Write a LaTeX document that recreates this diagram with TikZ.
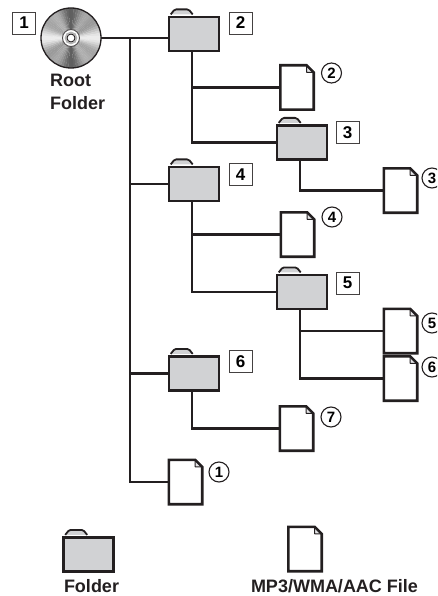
\documentclass[tikz,border=0pt]{standalone}
\usepackage{fontspec}
\setmainfont{Liberation Sans}
\definecolor{ink}{HTML}{231F20}
\definecolor{fgray}{HTML}{D1D2D4}
\definecolor{foldc}{HTML}{E4E4E6}
\begin{document}
\begin{tikzpicture}[x=1pt,y=-1pt,
  conn/.style={draw=ink, line width=2.4pt},
  folder/.style={rectangle, draw=ink, fill=fgray, line width=2.6pt, minimum width=50pt, minimum height=34pt, inner sep=0pt},
  tab/.style={draw=ink, fill=fgray, line width=1.8pt, line join=round, rounded corners=1.5pt},
  file/.style={rectangle, minimum width=33pt, minimum height=44pt, inner sep=0pt},
  fileout/.style={draw=ink, line width=2.6pt, line join=miter},
  foldst/.style={draw=ink, fill=foldc, line width=1pt, line join=round},
  sq/.style={rectangle, draw=ink!85, line width=0.9pt, fill=white, minimum width=23pt, minimum height=22pt, inner sep=0pt, font=\fontsize{17}{17}\selectfont\bfseries},
  circ/.style={circle, draw=ink, line width=1.1pt, minimum size=20pt, inner sep=0pt, font=\fontsize{15}{15}\selectfont\bfseries},
  lbl/.style={inner sep=0pt, text=ink, font=\fontsize{18}{18}\selectfont\bfseries}
]
\useasboundingbox (0,0) rectangle (437,596);
\clip (0,0) rectangle (437,596);

% ---- CD (root) ----
\node[circle, minimum size=60pt, inner sep=0pt] (cd) at (71,38) {};
\begin{scope}
  \clip (cd.center) circle[radius=30];
  \foreach \a in {0,5,...,355} {
    \pgfmathsetmacro{\v}{65+18*cos(2*\a)+10*cos(6*\a+20)}
    \fill[white!\v!black] (cd.center) -- +(\a:32) -- +(\a+5.5:32) -- cycle;
  }
\end{scope}
\draw[ink, line width=1.3pt] (cd.center) circle[radius=30];
\fill[white, draw=ink!80, line width=0.9pt] (cd.center) circle[radius=8.5];
\draw[gray!60, line width=1.5pt] (cd.center) circle[radius=5.6];
\fill[white, draw=ink, line width=0.9pt] (cd.center) circle[radius=4];

\node[sq] (b1) at (24,23) {1};
\node[lbl, anchor=base west] (root1) at (50,87) {Root};
\node[lbl, anchor=base west] (root2) at (50,110) {Folder};

% ---- folders ----
\node[folder] (f2) at (194,34) {};
\node[folder] (f3) at (302,142.5) {};
\node[folder] (f4) at (194,184) {};
\node[folder] (f5) at (302,292) {};
\node[folder] (f6) at (194,373.5) {};
\node[folder] (fl) at (88.5,554.5) {};

% ---- files ----
\node[file] (file2) at (297,87.5) {};
\node[file] (file3) at (400.5,190.5) {};
\node[file] (file4) at (297.5,234.5) {};
\node[file] (file5) at (400.5,331) {};
\node[file] (file6) at (400.5,378.5) {};
\node[file] (file7) at (296.5,428.5) {};
\node[file] (file1) at (185.5,482) {};
\node[file] (filel) at (305,549) {};

% ---- connectors ----
\coordinate (tk) at (130,38);
\draw[conn] (cd) -- (cd -| f2.west);
\draw[conn] (tk) |- (file1);
\draw[conn] (tk |- f4) -- (f4);
\draw[conn] (tk |- f6) -- (f6);
\draw[conn] ([xshift=-2pt]f2.south) |- (f3);
\draw[conn] ([xshift=-2pt]f2.south |- file2) -- (file2);
\draw[conn] ([xshift=-2pt]f3.south) |- (file3);
\draw[conn] ([xshift=-2pt]f4.south) |- (f5);
\draw[conn] ([xshift=-2pt]f4.south |- file4) -- (file4);
\draw[conn] ([xshift=-2pt]f5.south) |- (file6);
\draw[conn] ([xshift=-2pt]f5.south |- file5) -- (file5);
\draw[conn] ([xshift=-2pt]f6.south) |- (file7);

% ---- folder tabs ----
\foreach \n in {f2,f3,f4,f5,f6,fl}
  \draw[tab] ([shift={(3,-1.3)}]\n.north west) -- ++(4,-5) -- ++(14,0) -- ++(4,5);

% ---- file outlines ----
\foreach \n in {file2,file3,file4,file5,file6,file7,file1,filel} {
  \fill[white] (\n.north west) -- ([shift={(-7,0)}]\n.north east) -- ([shift={(0,7)}]\n.north east) -- (\n.south east) -- (\n.south west) -- cycle;
  \draw[foldst] ([shift={(-7,0)}]\n.north east) -- ([shift={(-7,7)}]\n.north east) -- ([shift={(0,7)}]\n.north east) -- cycle;
  \draw[fileout] (\n.north west) -- ([shift={(-7,0)}]\n.north east) -- ([shift={(0,7)}]\n.north east) -- (\n.south east) -- (\n.south west) -- cycle;
}

% ---- square labels ----
\node[sq] (b2) at (240.5,23) {2};
\node[sq] (b3) at (347.5,132.5) {3};
\node[sq] (b4) at (240.5,174.5) {4};
\node[sq] (b5) at (347.5,283) {5};
\node[sq] (b6) at (240.5,361.5) {6};

% ---- circled labels ----
\node[circ] (c2) at (331.5,73) {2};
\node[circ] (c3) at (432,178) {3};
\node[circ] (c4) at (332,217) {4};
\node[circ] (c5) at (432,323) {5};
\node[circ] (c6) at (432,367) {6};
\node[circ] (c7) at (331,417) {7};
\node[circ] (c1) at (219,472) {1};

% ---- legend ----
\node[lbl, anchor=base] (lg1) at (91.5,592.5) {Folder};
\node[lbl, anchor=base] (lg2) at (334.5,592.5) {MP3/WMA/AAC File};
\end{tikzpicture}
\end{document}
